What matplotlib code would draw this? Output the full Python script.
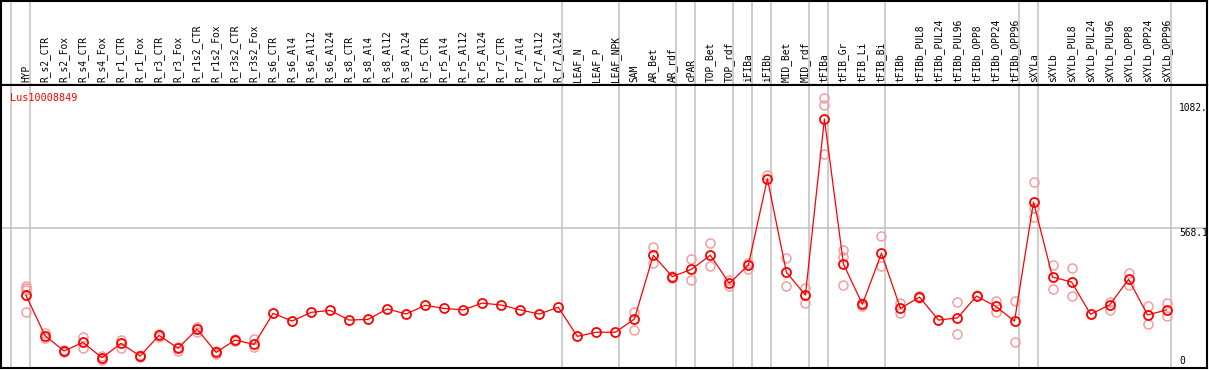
from matplotlib import pyplot as plt

samples = ["HYP",
           "R_s2_CTR", "R_s2_Fox", "R_s4_CTR", "R_s4_Fox", "R_r1_CTR", "R_r1_Fox",
           "R_r3_CTR", "R_r3_Fox", "R_r1s2_CTR", "R_r1s2_Fox", "R_r3s2_CTR", "R_r3s2_Fox",
           "R_s6_CTR", "R_s6_Al4", "R_s6_Al12", "R_s6_Al24",
           "R_s8_CTR", "R_s8_Al4", "R_s8_Al12", "R_s8_Al24",
           "R_r5_CTR", "R_r5_Al4", "R_r5_Al12", "R_r5_Al24",
           "R_r7_CTR", "R_r7_Al4", "R_r7_Al12", "R_r7_Al24",
           "LEAF_N", "LEAF_P", "LEAF_NPK",
           "SAM", "AR_Bet", "AR_rdf", "cPAR", "TOP_Bet", "TOP_rdf",
           "iFIBa", "iFIBb", "MID_Bet", "MID_rdf",
           "tFIBa", "tFIB_Gr", "tFIB_Li", "tFIB_Bi",
           "tFIBb", "tFIBb_PUL8", "tFIBb_PUL24", "tFIBb_PUL96",
           "tFIBb_OPP8", "tFIBb_OPP24", "tFIBb_OPP96",
           "sXYLa", "sXYLb", "sXYLb_PUL8", "sXYLb_PUL24", "sXYLb_PUL96",
           "sXYLb_OPP8", "sXYLb_OPP24", "sXYLb_OPP96"]

means = [291,
         125, 62, 97, 34, 93, 41, 126, 73, 152, 56, 107, 89,
         217, 185, 221, 229, 189, 192, 235, 214,
         250, 237, 231, 259, 251, 231, 214, 242,
         122, 139, 139,
         193, 456, 368, 398, 456, 340,
         416, 771, 386, 292,
         1017, 420, 254, 464,
         237, 284, 189, 198, 288, 246, 185,
         675, 366, 346, 213, 251, 357, 210, 231]

replicates = [[330, 322, 314, 222],
              [134, 114], [66, 58], [121, 73], [42, 23], [107, 75], [45, 38],
              [132, 118], [80, 63], [162, 142], [62, 48], [110, 104], [110, 77],
              [], [], [], [], [], [], [], [],
              [], [], [], [], [], [], [], [],
              [], [], [],
              [221, 147], [489, 425], [372, 362], [439, 353], [506, 412], [354, 329],
              [425, 401], [786], [443, 328], [320, 258],
              [1102, 1073, 873], [478, 450, 333], [260, 248], [535, 412],
              [261, 219], [288, 280], [], [263, 130], [292], [269, 224], [268, 98],
              [756, 649, 615], [414, 316], [402, 288], [216], [265, 231],
              [382, 335], [247, 173], [258, 205]]

gene = "Lus10008849"

# group boundaries: a grey line is drawn after these columns
group_ends = [-1, 0, 28, 31, 34, 35, 37, 38, 39, 41, 42, 45, 52, 53, 60]

W, H = 1209, 370
fig = plt.figure(figsize=(W / 100, H / 100), dpi=100)

x_lo, x_hi = (1 - 26) / 19.01, (1207 - 26) / 19.01
y_lo, y_hi = -8.2, 1157

# header with the sample names
ax_head = fig.add_axes([1 / W, 1 - 85 / H, 1206 / W, 84 / H])
ax_head.set_xlim(x_lo, x_hi)
ax_head.set_ylim(0, 1)
ax_head.set_xticks([])
ax_head.set_yticks([])
for s in ax_head.spines.values():
    s.set_linewidth(1.5)
for g in group_ends:
    ax_head.axvline(g + 0.21, color="#c0c0c0", lw=1.1)
for i, name in enumerate(samples):
    ax_head.text(i, 0.03, name, rotation=90, ha="center", va="bottom",
                 family="DejaVu Sans Mono", fontsize=6.9, color="black")

# plot area
ax = fig.add_axes([1 / W, 2 / H, 1206 / W, 283 / H])
ax.set_xlim(x_lo, x_hi)
ax.set_ylim(y_lo, y_hi)
ax.set_xticks([])
ax.set_yticks([])
for s in ax.spines.values():
    s.set_linewidth(1.5)
for g in group_ends:
    ax.axvline(g + 0.21, color="#c0c0c0", lw=1.1, zorder=1)
ax.axhline(568.1, color="#c0c0c0", lw=1.1, zorder=1)

for i, reps in enumerate(replicates):
    for r in reps:
        ax.plot(i, r, "o", markersize=6.5, markerfacecolor="none",
                markeredgecolor="#f0a0a0", markeredgewidth=1.1, zorder=2)

xs = list(range(len(samples)))
ax.plot(xs, means, "-", color="red", lw=0.9, zorder=3)
ax.plot(xs, means, "o", markersize=6.5, markerfacecolor="none",
        markeredgecolor="red", markeredgewidth=1.3, zorder=4)

ax.text(9 / W * 0 + 0.0075, 0.97, gene, transform=ax.transAxes, color="red",
        family="DejaVu Sans Mono", fontsize=7.3, ha="left", va="top")

# value labels on the right
xl = (1179 - 26) / 19.01
ax.text(xl, 1082, "1082.", family="DejaVu Sans Mono", fontsize=6.9, ha="left", va="top")
ax.text(xl, 568.1, "568.1", family="DejaVu Sans Mono", fontsize=6.9, ha="left", va="top")
ax.text(xl, 0, "0", family="DejaVu Sans Mono", fontsize=6.9, ha="left", va="bottom")

fig.savefig("out.png", dpi=100)
